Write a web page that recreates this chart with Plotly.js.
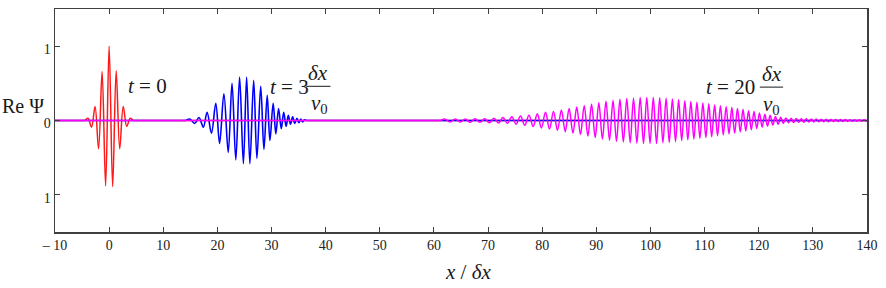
<!DOCTYPE html>
<html>
<head>
<meta charset="utf-8">
<script src="https://cdn.plot.ly/plotly-3.0.1.min.js"></script>
<style>html,body{margin:0;padding:0;background:#fff;}#chart{width:886px;height:288px;}</style>
</head>
<body>
<div id="chart"></div>
<script>
// Red packet, t = 0 (extremes)
const redX = [-10, -5, -4.5, -3.9, -3.25, -2.6, -1.95, -1.3, -0.65, 0, 0.65, 1.3, 1.95, 2.6, 3.25, 3.9, 4.5, 5, 140];
const redY = [0, 0, 0, 0.03, -0.09, 0.19, -0.38, 0.66, -0.88, 1.0, -0.89, 0.67, -0.38, 0.19, -0.08, 0.03, 0, 0, 0];

// Blue packet, t = 3 dx/v0
const blueX = [-10, 13.6, 14.1, 14.9, 15.8, 16.6, 17.4, 18.1, 18.9, 19.7, 20.4, 21.2, 22.0, 22.7, 23.4, 24.1, 24.8, 25.4, 26.0, 26.7, 27.3, 28.0, 28.6, 29.2, 29.7, 30.3, 30.8, 31.3, 31.8, 32.25, 32.7, 33.1, 33.5, 33.9, 34.3, 34.7, 35.05, 35.4, 35.75, 36.1, 36.5, 37.0, 140];
const blueY = [0, 0, 0, 0.02, -0.04, 0.04, -0.09, 0.11, -0.17, 0.23, -0.31, 0.36, -0.43, 0.50, -0.53, 0.585, -0.58, 0.585, -0.58, 0.54, -0.51, 0.46, -0.39, 0.34, -0.27, 0.23, -0.18, 0.16, -0.11, 0.11, -0.08, 0.07, -0.05, 0.05, -0.04, 0.03, -0.03, 0.02, -0.02, 0.01, 0, 0, 0];

// Magenta packet, t = 20 dx/v0
const magX = [-10, 60.5, 61.2,
  62.00, 62.97, 63.92, 64.86, 65.79, 66.70, 67.60, 68.49, 69.37, 70.23,
  71.08, 71.92, 72.75, 73.57, 74.38, 75.19, 75.99, 76.78, 77.56, 78.33,
  79.10, 79.86, 80.61, 81.35, 82.09, 82.82, 83.54, 84.26, 84.97, 85.68,
  86.38, 87.07, 87.76, 88.44, 89.12, 89.79, 90.46, 91.12, 91.78, 92.43,
  93.08, 93.72, 94.36, 94.99, 95.62, 96.25, 96.87, 97.49, 98.10, 98.71,
  99.32, 99.92, 100.52, 101.12, 101.71, 102.30, 102.89, 103.47, 104.05, 104.63,
  105.20, 105.77, 106.34, 106.90, 107.46, 108.02, 108.58, 109.13, 109.68, 110.23,
  110.77, 111.31, 111.85, 112.39, 112.92, 113.45, 113.98, 114.51, 115.03, 115.55,
  116.07, 116.59, 117.10, 117.61, 118.12, 118.63, 119.13, 119.63, 120.13, 120.63,
  121.13, 121.62, 122.11, 122.60, 123.09, 123.58, 124.06, 124.54, 125.02, 125.50,
  125.98, 126.45, 126.92, 127.39, 127.86, 128.33, 128.79, 129.25, 129.71, 130.17,
  130.63, 131.09, 131.54, 131.99, 132.44, 132.89, 133.34, 133.79, 134.23, 134.67,
  135.11, 135.55, 135.99, 136.43, 136.87, 137.30, 137.73, 138.16, 138.59, 139.02,
  139.45, 139.88, 140];
const magY = [0, 0, 0,
  0.02, -0.02, 0.02, -0.02, 0.02, -0.025, 0.025, -0.025, 0.025, -0.03,
  0.03, -0.035, 0.04, -0.04, 0.05, -0.05, 0.06, -0.065, 0.07, -0.08,
  0.09, -0.10, 0.11, -0.115, 0.12, -0.13, 0.14, -0.15, 0.16, -0.17,
  0.18, -0.19, 0.20, -0.21, 0.22, -0.23, 0.24, -0.25, 0.26, -0.265,
  0.27, -0.28, 0.285, -0.29, 0.295, -0.30, 0.30, -0.305, 0.31, -0.31,
  0.31, -0.31, 0.31, -0.31, 0.305, -0.30, 0.30, -0.295, 0.29, -0.285,
  0.28, -0.27, 0.265, -0.26, 0.255, -0.25, 0.245, -0.24, 0.235, -0.23,
  0.225, -0.22, 0.21, -0.205, 0.20, -0.195, 0.19, -0.18, 0.175, -0.17,
  0.16, -0.155, 0.15, -0.14, 0.13, -0.125, 0.12, -0.11, 0.10, -0.09,
  0.085, -0.075, 0.07, -0.06, 0.055, -0.05, 0.045, -0.04, 0.035, -0.03,
  0.03, -0.028, 0.026, -0.025, 0.024, -0.023, 0.022, -0.021, 0.02, -0.02,
  0.019, -0.018, 0.018, -0.017, 0.016, -0.016, 0.015, -0.015, 0.014, -0.014,
  0.013, -0.013, 0.012, -0.012, 0.011, -0.011, 0.01, -0.01, 0.01, -0.01,
  0.01, -0.01, 0];

const xTickVals = [-10, 0, 10, 20, 30, 40, 50, 60, 70, 80, 90, 100, 110, 120, 130, 140];
const xTickText = ['\u2013 10', '0', '10', '20', '30', '40', '50', '60', '70', '80', '90', '100', '110', '120', '130', '140'];
const yTickVals = [-1, 0, 1];
const yTickText = ['1', '0', '1'];

const serif = 'Liberation Serif, Times New Roman, Times, serif';
const ink = '#1a1a1a';

const traces = [
  {x: redX, y: redY, mode: 'lines', line: {color: '#ff1a1a', width: 1.5, shape: 'spline', smoothing: 1}, hoverinfo: 'skip'},
  {x: blueX, y: blueY, mode: 'lines', line: {color: '#0000ff', width: 1.6, shape: 'spline', smoothing: 1}, hoverinfo: 'skip'},
  {x: magX, y: magY, mode: 'lines', line: {color: '#ff00ff', width: 1.5, shape: 'spline', smoothing: 1}, hoverinfo: 'skip'}
];

const axisCommon = {
  showgrid: false, zeroline: false, showline: true, linecolor: '#404040', linewidth: 1.5,
  mirror: 'ticks', ticks: 'inside', ticklen: 5, tickwidth: 1, tickcolor: '#404040',
  tickfont: {family: serif, size: 14, color: '#222'}, tickmode: 'array'
};

const tf = {family: serif, size: 21, color: ink};
const layout = {
  width: 886, height: 288,
  margin: {l: 55, r: 19, t: 9, b: 56, pad: 0},
  paper_bgcolor: '#fff', plot_bgcolor: '#fff',
  showlegend: false,
  xaxis: Object.assign({}, axisCommon, {range: [-10, 140], tickvals: xTickVals, ticktext: xTickText}),
  yaxis: Object.assign({}, axisCommon, {range: [-1.5, 1.5], tickvals: yTickVals, ticktext: yTickText, ticklabelshift: 3}),
  annotations: [
    {xref: 'paper', yref: 'paper', x: -0.040, y: 0.565, xanchor: 'center', yanchor: 'middle', showarrow: false, text: 'Re \u03A8', font: {family: serif, size: 20, color: ink}},
    {xref: 'paper', yref: 'paper', x: 0.509, y: -0.179, xanchor: 'center', yanchor: 'middle', showarrow: false, text: '<i>x</i> / <i>\u03B4x</i>', font: tf},
    {x: 7.15, y: 0.47, xanchor: 'center', yanchor: 'middle', showarrow: false, text: '<i>t</i> = 0', font: tf},
    {x: 33.3, y: 0.45, xanchor: 'center', yanchor: 'middle', showarrow: false, text: '<i>t</i> = 3', font: tf},
    {x: 38.6, y: 0.64, xanchor: 'center', yanchor: 'middle', showarrow: false, text: '<i>\u03B4x</i>', font: tf},
    {x: 38.8, y: 0.22, xanchor: 'center', yanchor: 'middle', showarrow: false, text: '<i>v</i><sub>0</sub>', font: tf},
    {x: 114.8, y: 0.45, xanchor: 'center', yanchor: 'middle', showarrow: false, text: '<i>t</i> = 20', font: tf},
    {x: 122.4, y: 0.62, xanchor: 'center', yanchor: 'middle', showarrow: false, text: '<i>\u03B4x</i>', font: tf},
    {x: 122.3, y: 0.21, xanchor: 'center', yanchor: 'middle', showarrow: false, text: '<i>v</i><sub>0</sub>', font: tf}
  ],
  shapes: [
    {type: 'line', x0: 36.4, x1: 40.9, y0: 0.46, y1: 0.46, line: {color: ink, width: 1}},
    {type: 'line', x0: 120.2, x1: 124.5, y0: 0.449, y1: 0.449, line: {color: ink, width: 1}}
  ]
};

Plotly.newPlot('chart', traces, layout, {staticPlot: true, displayModeBar: false});
</script>
</body>
</html>
